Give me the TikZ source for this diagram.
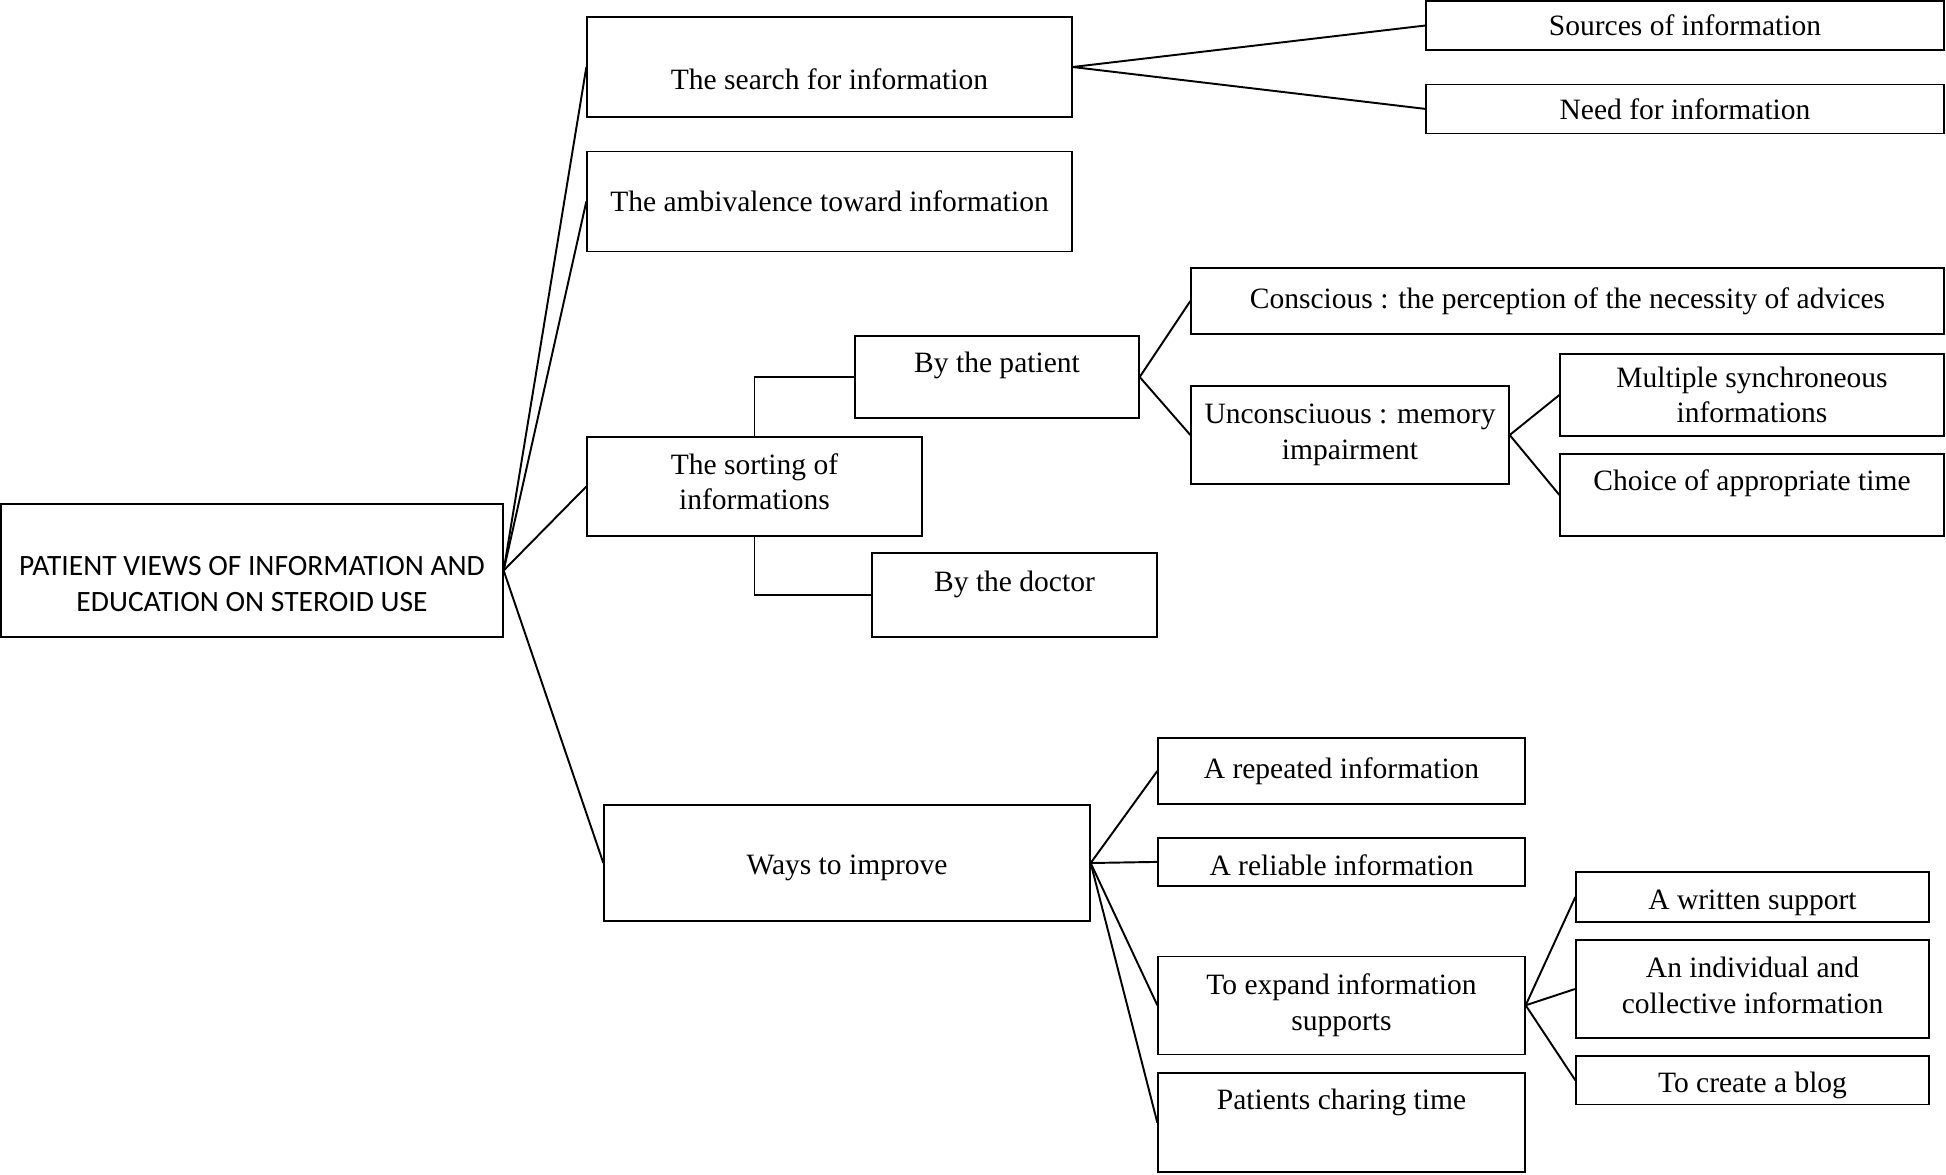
\documentclass[tikz,border=0pt]{standalone}
\usepackage{fontspec}
\setmainfont{Liberation Serif}
\newfontfamily\rootfont{Carlito}
\usepackage{tikz}
\usetikzlibrary{positioning}

\begin{document}
\begin{tikzpicture}[
  x=0.02cm, y=-0.02cm,
  box/.style={rectangle, draw, line width=0.8pt, align=center, font=\fontsize{16.8pt}{20.1pt}\selectfont},
  rootbox/.style={box, font=\rootfont\fontsize{16.8pt}{20.1pt}\selectfont},
  hightext/.style={text depth=#1},
  lowtext/.style={text height=#1},
  link/.style={line width=1.1pt},
  every node/.style={inner sep=2pt}
]
\useasboundingbox (0,0) rectangle (1946,1174);

% root and main themes
\node[rootbox, lowtext=1.63cm, minimum width=10.04cm, minimum height=2.66cm] (root) at (252,570.5) {PATIENT VIEWS OF INFORMATION AND\\EDUCATION ON STEROID USE};
\node[box, lowtext=0.9cm, minimum width=9.7cm, minimum height=2cm] (search) at (829.5,67) {The search for information};
\node[box, minimum width=9.7cm, minimum height=2cm, below=0.66cm of search] (ambiv) {The ambivalence toward information};
\node[box, hightext=0.2cm, minimum width=6.7cm, minimum height=1.98cm] (sorting) at (754.5,486.5) {The sorting of\\informations};
\node[box, lowtext=0.59cm, minimum width=9.72cm, minimum height=2.32cm] (ways) at (847,863) {Ways to improve};

% search
\node[box, minimum width=10.36cm, minimum height=0.98cm] (sources) at (1685,25.5) {Sources of information};
\node[box, minimum width=10.36cm, minimum height=0.98cm, below=0.66cm of sources] (need) {Need for information};

% sorting
\node[box, hightext=0.6cm, minimum width=5.68cm, minimum height=1.64cm] (patient) at (997,377) {By the patient};
\node[box, hightext=0.55cm, minimum width=5.7cm, minimum height=1.68cm] (doctor) at (1014.5,595) {By the doctor};
\node[box, minimum width=15.06cm, minimum height=1.32cm] (conscious) at (1567.5,301) {Conscious : the perception of the necessity of advices};
\node[box, minimum width=6.36cm, minimum height=1.96cm] (unconscious) at (1350,435) {Unconsciuous : memory\\impairment};
\node[box, minimum width=7.68cm, minimum height=1.64cm] (multiple) at (1752,395) {Multiple synchroneous\\informations};
\node[box, hightext=0.6cm, minimum width=7.68cm, minimum height=1.64cm, below=0.33cm of multiple] (choice) {Choice of appropriate time};

% ways to improve
\node[box, minimum width=7.34cm, minimum height=1.32cm] (repeated) at (1341.5,771) {A repeated information};
\node[box, lowtext=0.56cm, minimum width=7.34cm, minimum height=0.96cm, below=0.65cm of repeated] (reliable) {A reliable information};
\node[box, minimum width=7.34cm, minimum height=1.96cm, below=1.38cm of reliable] (expand) {To expand information\\supports};
\node[box, hightext=0.92cm, minimum width=7.34cm, minimum height=1.98cm, below=0.35cm of expand] (charing) {Patients charing time};
\node[box, lowtext=0.63cm, minimum width=7.06cm, minimum height=1.0cm] (written) at (1752.5,897) {A written support};
\node[box, hightext=0.15cm, minimum width=7.06cm, minimum height=1.96cm, below=0.33cm of written] (individual) {An individual and\\collective information};
\node[box, lowtext=0.6cm, minimum width=7.06cm, minimum height=0.98cm, below=0.33cm of individual] (blog) {To create a blog};

\draw[link] (root.east) -- (search.west);
\draw[link] (root.east) -- (ambiv.west);
\draw[link] (root.east) -- (sorting.west);
\draw[link] (root.east) -- (ways.west);
\draw[link] (search.east) -- (sources.west);
\draw[link] (search.east) -- (need.west);
\draw[link] (sorting.north) |- (patient.west);
\draw[link] (sorting.south) |- (doctor.west);
\draw[link] (patient.east) -- (conscious.west);
\draw[link] (patient.east) -- (unconscious.west);
\draw[link] (unconscious.east) -- (multiple.west);
\draw[link] (unconscious.east) -- (choice.west);
\draw[link] (ways.east) -- (repeated.west);
\draw[link] (ways.east) -- (reliable.west);
\draw[link] (ways.east) -- (expand.west);
\draw[link] (ways.east) -- (charing.west);
\draw[link] (expand.east) -- (written.west);
\draw[link] (expand.east) -- (individual.west);
\draw[link] (expand.east) -- (blog.west);
\end{tikzpicture}
\end{document}
